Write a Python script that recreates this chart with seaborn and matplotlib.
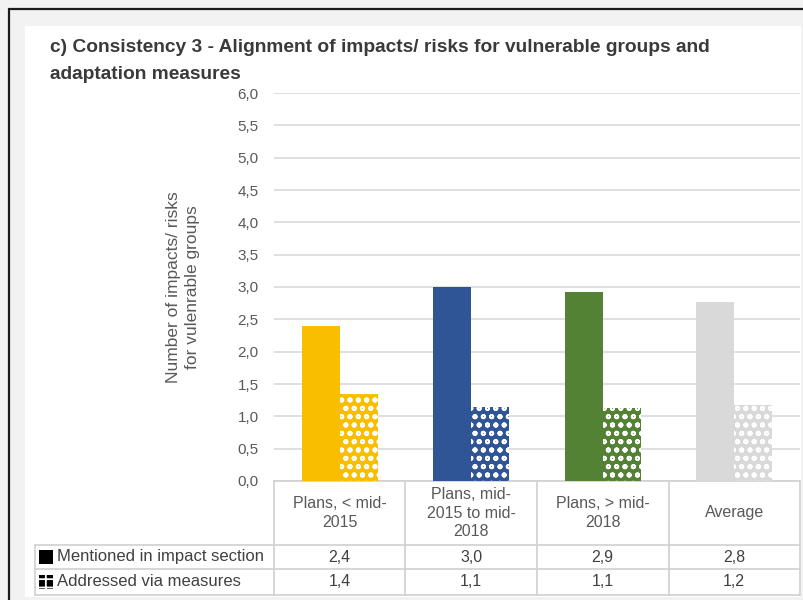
import matplotlib
matplotlib.use("Agg")
import matplotlib.pyplot as plt
from matplotlib.patches import Rectangle
from matplotlib.lines import Line2D
from matplotlib.ticker import FuncFormatter, MultipleLocator
import seaborn as sns
import pandas as pd

# ---- data ----
plans = ["Plans, < mid-\n2015", "Plans, mid-\n2015 to mid-\n2018", "Plans, > mid-\n2018", "Average"]
series = ["Mentioned in impact section", "Addressed via measures"]
mentioned = [2.39, 3.00, 2.93, 2.77]
addressed = [1.35, 1.14, 1.13, 1.17]
bar_colors = ["#F9BE00", "#2F5597", "#548235", "#D9D9D9"]

df = pd.DataFrame({
    "plan": plans * 2,
    "series": [series[0]] * 4 + [series[1]] * 4,
    "value": mentioned + addressed,
})

sns.set_theme(style="white")
plt.rcParams["font.family"] = ["Liberation Sans", "DejaVu Sans"]
plt.rcParams["hatch.linewidth"] = 1.3

W, H = 804, 600
fig = plt.figure(figsize=(W / 100, H / 100), dpi=100)
fig.patch.set_facecolor("#f2f2f2")

def fx(px):
    return px / W

def fy(py):
    return 1 - py / H

# white panel and dark frame
fig.add_artist(Rectangle((fx(25), fy(597)), fx(801) - fx(25), fy(26) - fy(597),
                         transform=fig.transFigure, facecolor="white", edgecolor="none", zorder=0))
fig.add_artist(Line2D([fx(9), fx(9)], [fy(9), 0], transform=fig.transFigure, color="#1a1a1a", lw=1.6))
fig.add_artist(Line2D([fx(9), 1], [fy(9), fy(9)], transform=fig.transFigure, color="#1a1a1a", lw=1.6))

ax = fig.add_axes([fx(274), fy(481), fx(800) - fx(274), fy(93) - fy(481)])
ax.set_facecolor("none")

sns.barplot(data=df, x="plan", y="value", hue="series", width=0.58, gap=0,
            palette=["#000000", "#888888"], legend=False, ax=ax, zorder=3)

for bar, c in zip(ax.containers[0], bar_colors):
    bar.set_facecolor(c)
    bar.set_edgecolor("none")
for bar, c in zip(ax.containers[1], bar_colors):
    bar.set_facecolor(c)
    bar.set_edgecolor("white")
    bar.set_hatch("oo")
    bar.set_linewidth(0)

ax.set_xlim(-0.5, 3.5)
ax.set_ylim(0, 6)
ax.yaxis.set_major_locator(MultipleLocator(0.5))
ax.yaxis.set_major_formatter(FuncFormatter(lambda v, p: f"{v:.1f}".replace(".", ",")))
ax.tick_params(axis="y", length=0, pad=11, labelsize=11, labelcolor="#595959")
ax.set_xticks([])
ax.set_xlabel("")
ax.set_ylabel("Number of impacts/ risks\nfor vulenrable groups", fontsize=12.5,
              color="#595959", labelpad=27, linespacing=1.35)
ax.yaxis.grid(True, color="#d9d9d9", lw=1.2)
ax.set_axisbelow(True)
for s in ax.spines.values():
    s.set_visible(False)

# ---- data table below the plot ----
tr = ax.get_xaxis_transform()
px_per_unit = (800 - 274) / 4.0

def dx(px):
    return -0.5 + (px - 274) / px_per_unit

def ay(py):
    return (481 - py) / (481 - 93)

grid_c = "#d0d0d0"
y_head, y_r1, y_r2, y_r3 = ay(481), ay(545), ay(569), ay(595)
for yy, x0 in [(y_head, dx(274)), (y_r1, dx(35)), (y_r2, dx(35)), (y_r3, dx(35))]:
    ax.plot([x0, 3.5], [yy, yy], transform=tr, color=grid_c, lw=1.2, clip_on=False)
for i in range(5):
    ax.plot([i - 0.5, i - 0.5], [y_head, y_r3], transform=tr, color=grid_c, lw=1.2, clip_on=False)
ax.plot([dx(35), dx(35)], [y_r1, y_r3], transform=tr, color=grid_c, lw=1.2, clip_on=False)

for i, lab in enumerate(plans):
    ax.text(i, (y_head + y_r1) / 2, lab, transform=tr, ha="center", va="center",
            fontsize=11.5, color="#595959", linespacing=1.3)
    ax.text(i, (y_r1 + y_r2) / 2, f"{mentioned[i]:.1f}".replace(".", ","), transform=tr,
            ha="center", va="center", fontsize=11.5, color="#404040")
    ax.text(i, (y_r2 + y_r3) / 2, f"{addressed[i]:.1f}".replace(".", ","), transform=tr,
            ha="center", va="center", fontsize=11.5, color="#404040")

key_h = 14 / (481 - 93)
for k, (lab, y0, y1) in enumerate([(series[0], y_r1, y_r2), (series[1], y_r2, y_r3)]):
    ym = (y0 + y1) / 2
    ax.text(dx(57), ym, lab, transform=tr, ha="left", va="center", fontsize=12, color="#404040")
    key = Rectangle((dx(39), ym - key_h / 2), dx(53) - dx(39), key_h, transform=tr, clip_on=False,
                    facecolor="black", edgecolor="white" if k else "black",
                    hatch="++" if k else None, lw=0)
    ax.add_patch(key)

fig.text(fx(50), fy(39), "c) Consistency 3 - Alignment of impacts/ risks for vulnerable groups and\n"
         "adaptation measures", ha="left", va="top", fontsize=13.8, fontweight="bold",
         color="#3a3a3a", linespacing=1.75)

fig.savefig("out.png", dpi=100, facecolor=fig.get_facecolor())
